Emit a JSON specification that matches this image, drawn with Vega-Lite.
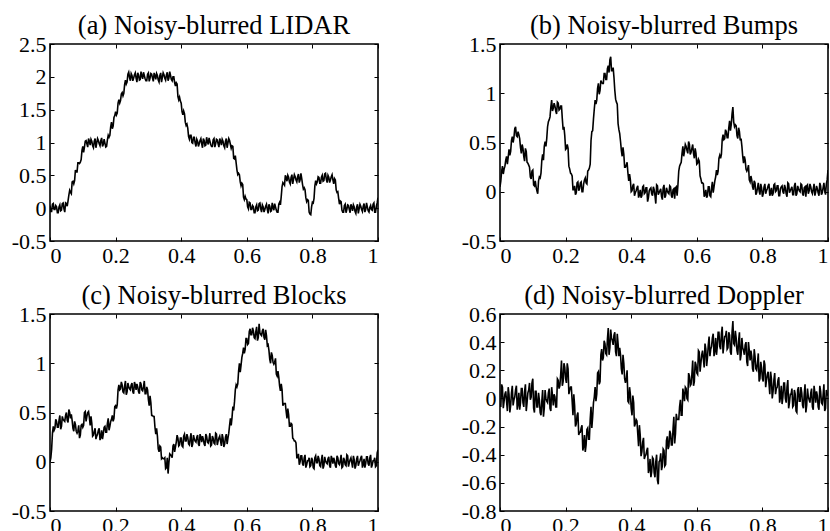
{
"$schema": "https://vega.github.io/schema/vega-lite/v6.json",
"padding": {"left": 10, "top": 11, "right": 0, "bottom": 0},
"background": "white",
"config": {
  "font": "Liberation Serif",
  "view": {"stroke": "black", "strokeWidth": 1.6},
  "axis": {"domain": false, "grid": false, "ticks": true, "tickSize": -4, "tickColor": "black", "tickWidth": 1, "labelFont": "Liberation Serif", "labelFontSize": 22, "labelColor": "black", "labelPadding": 8, "labelOverlap": false, "labelBound": false, "labelExpr": "toString(datum.value)"},
  "title": {"font": "Liberation Serif", "fontSize": 26.5, "fontWeight": "normal", "color": "black", "anchor": "middle", "offset": -6, "baseline": "alphabetic"},
  "line": {"color": "black", "strokeWidth": 1.6}
},
"columns": 2,
"bounds": "flush",
"spacing": {"row": 73, "column": 122},
"datasets": {
"a": [{"x":0,"y":0.04},{"x":0.005,"y":-0.05},{"x":0.01,"y":0.07},{"x":0.015,"y":-0.02},{"x":0.02,"y":0.02},{"x":0.025,"y":-0.07},{"x":0.03,"y":0.05},{"x":0.035,"y":-0.03},{"x":0.04,"y":0.08},{"x":0.045,"y":-0.06},
{"x":0.05,"y":0.07},{"x":0.055,"y":0.11},{"x":0.06,"y":0.27},{"x":0.065,"y":0.22},{"x":0.07,"y":0.41},{"x":0.075,"y":0.42},{"x":0.08,"y":0.55},{"x":0.085,"y":0.69},{"x":0.09,"y":0.68},{"x":0.095,"y":0.74},
{"x":0.1,"y":0.94},{"x":0.105,"y":0.93},{"x":0.11,"y":1.03},{"x":0.115,"y":0.93},{"x":0.12,"y":1.02},{"x":0.125,"y":1.05},{"x":0.13,"y":0.95},{"x":0.135,"y":1.02},{"x":0.14,"y":0.92},{"x":0.145,"y":1.06},
{"x":0.15,"y":0.98},{"x":0.155,"y":1.03},{"x":0.16,"y":0.94},{"x":0.165,"y":1.05},{"x":0.17,"y":0.93},{"x":0.175,"y":1.04},{"x":0.18,"y":1.08},{"x":0.185,"y":1.24},{"x":0.19,"y":1.21},{"x":0.195,"y":1.38},
{"x":0.2,"y":1.47},{"x":0.205,"y":1.45},{"x":0.21,"y":1.65},{"x":0.215,"y":1.64},{"x":0.22,"y":1.76},{"x":0.225,"y":1.75},{"x":0.23,"y":1.95},{"x":0.235,"y":1.92},{"x":0.24,"y":2.07},{"x":0.245,"y":1.94},
{"x":0.25,"y":2.02},{"x":0.255,"y":1.98},{"x":0.26,"y":2.06},{"x":0.265,"y":1.92},{"x":0.27,"y":2.03},{"x":0.275,"y":1.96},{"x":0.28,"y":2.01},{"x":0.285,"y":2.07},{"x":0.29,"y":1.97},{"x":0.295,"y":1.94},
{"x":0.3,"y":2.06},{"x":0.305,"y":1.98},{"x":0.31,"y":2.04},{"x":0.315,"y":1.93},{"x":0.32,"y":2.02},{"x":0.325,"y":2.05},{"x":0.33,"y":1.95},{"x":0.335,"y":2.02},{"x":0.34,"y":1.92},{"x":0.345,"y":2.06},
{"x":0.35,"y":1.98},{"x":0.355,"y":2.03},{"x":0.36,"y":1.94},{"x":0.365,"y":2.08},{"x":0.37,"y":1.96},{"x":0.375,"y":2.0},{"x":0.38,"y":1.91},{"x":0.385,"y":1.91},{"x":0.39,"y":1.7},{"x":0.395,"y":1.69},
{"x":0.4,"y":1.6},{"x":0.405,"y":1.42},{"x":0.41,"y":1.44},{"x":0.415,"y":1.26},{"x":0.42,"y":1.22},{"x":0.425,"y":1.05},{"x":0.43,"y":1.11},{"x":0.435,"y":0.99},{"x":0.44,"y":1.08},{"x":0.445,"y":0.94},
{"x":0.45,"y":1.02},{"x":0.455,"y":0.98},{"x":0.46,"y":1.06},{"x":0.465,"y":0.92},{"x":0.47,"y":1.03},{"x":0.475,"y":0.96},{"x":0.48,"y":1.01},{"x":0.485,"y":1.07},{"x":0.49,"y":0.97},{"x":0.495,"y":0.94},
{"x":0.5,"y":1.06},{"x":0.505,"y":0.98},{"x":0.51,"y":1.04},{"x":0.515,"y":0.93},{"x":0.52,"y":1.02},{"x":0.525,"y":1.05},{"x":0.53,"y":0.95},{"x":0.535,"y":1.02},{"x":0.54,"y":0.92},{"x":0.545,"y":1.06},
{"x":0.55,"y":0.97},{"x":0.555,"y":0.95},{"x":0.56,"y":0.76},{"x":0.565,"y":0.8},{"x":0.57,"y":0.58},{"x":0.575,"y":0.53},{"x":0.58,"y":0.4},{"x":0.585,"y":0.38},{"x":0.59,"y":0.17},{"x":0.595,"y":0.18},
{"x":0.6,"y":0.13},{"x":0.605,"y":-0.01},{"x":0.61,"y":0.08},{"x":0.615,"y":-0.02},{"x":0.62,"y":0.02},{"x":0.625,"y":-0.07},{"x":0.63,"y":0.05},{"x":0.635,"y":-0.03},{"x":0.64,"y":0.08},{"x":0.645,"y":-0.06},
{"x":0.65,"y":0.02},{"x":0.655,"y":-0.02},{"x":0.66,"y":0.06},{"x":0.665,"y":-0.08},{"x":0.67,"y":0.03},{"x":0.675,"y":-0.04},{"x":0.68,"y":0.01},{"x":0.685,"y":0.07},{"x":0.69,"y":-0.03},{"x":0.695,"y":-0.06},
{"x":0.7,"y":0.09},{"x":0.705,"y":0.18},{"x":0.71,"y":0.39},{"x":0.715,"y":0.35},{"x":0.72,"y":0.47},{"x":0.725,"y":0.5},{"x":0.73,"y":0.4},{"x":0.735,"y":0.47},{"x":0.74,"y":0.37},{"x":0.745,"y":0.51},
{"x":0.75,"y":0.43},{"x":0.755,"y":0.48},{"x":0.76,"y":0.39},{"x":0.765,"y":0.53},{"x":0.77,"y":0.36},{"x":0.775,"y":0.31},{"x":0.78,"y":0.16},{"x":0.785,"y":0.13},{"x":0.79,"y":-0.06},{"x":0.795,"y":-0.1},
{"x":0.8,"y":0.09},{"x":0.805,"y":0.15},{"x":0.81,"y":0.42},{"x":0.815,"y":0.4},{"x":0.82,"y":0.47},{"x":0.825,"y":0.38},{"x":0.83,"y":0.5},{"x":0.835,"y":0.42},{"x":0.84,"y":0.53},{"x":0.845,"y":0.39},
{"x":0.85,"y":0.47},{"x":0.855,"y":0.43},{"x":0.86,"y":0.51},{"x":0.865,"y":0.37},{"x":0.87,"y":0.43},{"x":0.875,"y":0.24},{"x":0.88,"y":0.15},{"x":0.885,"y":0.11},{"x":0.89,"y":-0.03},{"x":0.895,"y":-0.06},
{"x":0.9,"y":0.06},{"x":0.905,"y":-0.02},{"x":0.91,"y":0.04},{"x":0.915,"y":-0.07},{"x":0.92,"y":0.02},{"x":0.925,"y":0.05},{"x":0.93,"y":-0.05},{"x":0.935,"y":0.02},{"x":0.94,"y":-0.08},{"x":0.945,"y":0.06},
{"x":0.95,"y":-0.02},{"x":0.955,"y":0.03},{"x":0.96,"y":-0.06},{"x":0.965,"y":0.08},{"x":0.97,"y":-0.04},{"x":0.975,"y":0.01},{"x":0.98,"y":-0.02},{"x":0.985,"y":0.06},{"x":0.99,"y":-0.06},{"x":0.995,"y":0.03},{"x":1,"y":0.16},
{"x":0.0025,"y":-0.05},{"x":0.0075,"y":0.06},{"x":0.0125,"y":-0.02},{"x":0.0175,"y":0.04},{"x":0.0225,"y":-0.07},{"x":0.0275,"y":0.02},{"x":0.0325,"y":-0.04},{"x":0.0375,"y":0.07},{"x":0.0425,"y":-0.01},{"x":0.0475,"y":0.08},
{"x":0.0525,"y":0.03},{"x":0.0575,"y":0.2},{"x":0.0625,"y":0.24},{"x":0.0675,"y":0.4},{"x":0.0725,"y":0.37},{"x":0.0775,"y":0.58},{"x":0.0825,"y":0.55},{"x":0.0875,"y":0.69},{"x":0.0925,"y":0.7},{"x":0.0975,"y":0.88},
{"x":0.1025,"y":0.85},{"x":0.1075,"y":1.02},{"x":0.1125,"y":0.98},{"x":0.1175,"y":1.06},{"x":0.1225,"y":0.96},{"x":0.1275,"y":1.02},{"x":0.1325,"y":0.92},{"x":0.1375,"y":1.06},{"x":0.1425,"y":0.99},{"x":0.1475,"y":1.03},
{"x":0.1525,"y":0.95},{"x":0.1575,"y":1.07},{"x":0.1625,"y":0.97},{"x":0.1675,"y":0.99},{"x":0.1725,"y":0.94},{"x":0.1775,"y":1.11},{"x":0.1825,"y":1.11},{"x":0.1875,"y":1.31},{"x":0.1925,"y":1.25},{"x":0.1975,"y":1.41},
{"x":0.2025,"y":1.42},{"x":0.2075,"y":1.6},{"x":0.2125,"y":1.6},{"x":0.2175,"y":1.74},{"x":0.2225,"y":1.71},{"x":0.2275,"y":1.88},{"x":0.2325,"y":1.89},{"x":0.2375,"y":2.04},{"x":0.2425,"y":1.99},{"x":0.2475,"y":2.05},
{"x":0.2525,"y":1.94},{"x":0.2575,"y":2.03},{"x":0.2625,"y":1.98},{"x":0.2675,"y":2.06},{"x":0.2725,"y":1.95},{"x":0.2775,"y":2.08},{"x":0.2825,"y":1.97},{"x":0.2875,"y":2.02},{"x":0.2925,"y":1.94},{"x":0.2975,"y":2.04},
{"x":0.3025,"y":1.93},{"x":0.3075,"y":2.05},{"x":0.3125,"y":1.98},{"x":0.3175,"y":2.06},{"x":0.3225,"y":1.96},{"x":0.3275,"y":2.02},{"x":0.3325,"y":1.92},{"x":0.3375,"y":2.06},{"x":0.3425,"y":1.99},{"x":0.3475,"y":2.03},
{"x":0.3525,"y":1.95},{"x":0.3575,"y":2.07},{"x":0.3625,"y":1.98},{"x":0.3675,"y":2.02},{"x":0.3725,"y":1.94},{"x":0.3775,"y":2.0},{"x":0.3825,"y":1.86},{"x":0.3875,"y":1.89},{"x":0.3925,"y":1.65},{"x":0.3975,"y":1.63},
{"x":0.4025,"y":1.47},{"x":0.4075,"y":1.48},{"x":0.4125,"y":1.31},{"x":0.4175,"y":1.28},{"x":0.4225,"y":1.09},{"x":0.4275,"y":1.11},{"x":0.4325,"y":1.0},{"x":0.4375,"y":1.08},{"x":0.4425,"y":0.99},{"x":0.4475,"y":1.05},
{"x":0.4525,"y":0.94},{"x":0.4575,"y":1.03},{"x":0.4625,"y":0.98},{"x":0.4675,"y":1.06},{"x":0.4725,"y":0.95},{"x":0.4775,"y":1.08},{"x":0.4825,"y":0.97},{"x":0.4875,"y":1.02},{"x":0.4925,"y":0.94},{"x":0.4975,"y":1.04},
{"x":0.5025,"y":0.93},{"x":0.5075,"y":1.05},{"x":0.5125,"y":0.98},{"x":0.5175,"y":1.06},{"x":0.5225,"y":0.96},{"x":0.5275,"y":1.02},{"x":0.5325,"y":0.92},{"x":0.5375,"y":1.06},{"x":0.5425,"y":0.99},{"x":0.5475,"y":1.03},
{"x":0.5525,"y":0.91},{"x":0.5575,"y":0.94},{"x":0.5625,"y":0.75},{"x":0.5675,"y":0.69},{"x":0.5725,"y":0.51},{"x":0.5775,"y":0.51},{"x":0.5825,"y":0.34},{"x":0.5875,"y":0.36},{"x":0.5925,"y":0.13},{"x":0.5975,"y":0.14},
{"x":0.6025,"y":0.02},{"x":0.6075,"y":0.09},{"x":0.6125,"y":-0.02},{"x":0.6175,"y":0.04},{"x":0.6225,"y":-0.07},{"x":0.6275,"y":0.02},{"x":0.6325,"y":-0.04},{"x":0.6375,"y":0.07},{"x":0.6425,"y":-0.01},{"x":0.6475,"y":0.05},
{"x":0.6525,"y":-0.06},{"x":0.6575,"y":0.03},{"x":0.6625,"y":-0.02},{"x":0.6675,"y":0.06},{"x":0.6725,"y":-0.05},{"x":0.6775,"y":0.08},{"x":0.6825,"y":-0.03},{"x":0.6875,"y":0.02},{"x":0.6925,"y":-0.06},{"x":0.6975,"y":0.06},
{"x":0.7025,"y":0.05},{"x":0.7075,"y":0.33},{"x":0.7125,"y":0.37},{"x":0.7175,"y":0.5},{"x":0.7225,"y":0.41},{"x":0.7275,"y":0.47},{"x":0.7325,"y":0.37},{"x":0.7375,"y":0.51},{"x":0.7425,"y":0.44},{"x":0.7475,"y":0.48},
{"x":0.7525,"y":0.4},{"x":0.7575,"y":0.52},{"x":0.7625,"y":0.43},{"x":0.7675,"y":0.45},{"x":0.7725,"y":0.29},{"x":0.7775,"y":0.28},{"x":0.7825,"y":0.1},{"x":0.7875,"y":0.12},{"x":0.7925,"y":-0.09},{"x":0.7975,"y":0.02},
{"x":0.8025,"y":0.08},{"x":0.8075,"y":0.34},{"x":0.8125,"y":0.37},{"x":0.8175,"y":0.48},{"x":0.8225,"y":0.38},{"x":0.8275,"y":0.47},{"x":0.8325,"y":0.41},{"x":0.8375,"y":0.52},{"x":0.8425,"y":0.44},{"x":0.8475,"y":0.5},
{"x":0.8525,"y":0.39},{"x":0.8575,"y":0.48},{"x":0.8625,"y":0.43},{"x":0.8675,"y":0.45},{"x":0.8725,"y":0.28},{"x":0.8775,"y":0.25},{"x":0.8825,"y":0.06},{"x":0.8875,"y":0.1},{"x":0.8925,"y":-0.06},{"x":0.8975,"y":0.04},
{"x":0.9025,"y":-0.07},{"x":0.9075,"y":0.05},{"x":0.9125,"y":-0.02},{"x":0.9175,"y":0.06},{"x":0.9225,"y":-0.04},{"x":0.9275,"y":0.02},{"x":0.9325,"y":-0.08},{"x":0.9375,"y":0.06},{"x":0.9425,"y":-0.01},{"x":0.9475,"y":0.03},
{"x":0.9525,"y":-0.05},{"x":0.9575,"y":0.07},{"x":0.9625,"y":-0.02},{"x":0.9675,"y":0.02},{"x":0.9725,"y":-0.06},{"x":0.9775,"y":0.04},{"x":0.9825,"y":-0.03},{"x":0.9875,"y":0.08},{"x":0.9925,"y":-0.06},{"x":0.9975,"y":0.08}],
"b": [{"x":0,"y":0.05},{"x":0.005,"y":0.21},{"x":0.01,"y":0.18},{"x":0.015,"y":0.26},{"x":0.02,"y":0.36},{"x":0.025,"y":0.35},{"x":0.03,"y":0.37},{"x":0.035,"y":0.52},{"x":0.04,"y":0.5},{"x":0.045,"y":0.64},
{"x":0.05,"y":0.57},{"x":0.055,"y":0.61},{"x":0.06,"y":0.54},{"x":0.065,"y":0.39},{"x":0.07,"y":0.44},{"x":0.075,"y":0.31},{"x":0.08,"y":0.41},{"x":0.085,"y":0.29},{"x":0.09,"y":0.25},{"x":0.095,"y":0.13},
{"x":0.1,"y":0.22},{"x":0.105,"y":0.06},{"x":0.11,"y":0.05},{"x":0.115,"y":-0.02},{"x":0.12,"y":0.15},{"x":0.125,"y":0.19},{"x":0.13,"y":0.38},{"x":0.135,"y":0.46},{"x":0.14,"y":0.46},{"x":0.145,"y":0.66},
{"x":0.15,"y":0.73},{"x":0.155,"y":0.86},{"x":0.16,"y":0.82},{"x":0.165,"y":0.9},{"x":0.17,"y":0.82},{"x":0.175,"y":0.91},{"x":0.18,"y":0.83},{"x":0.185,"y":0.87},{"x":0.19,"y":0.74},{"x":0.195,"y":0.66},
{"x":0.2,"y":0.43},{"x":0.205,"y":0.48},{"x":0.21,"y":0.26},{"x":0.215,"y":0.19},{"x":0.22,"y":0.16},{"x":0.225,"y":0.02},{"x":0.23,"y":-0.03},{"x":0.235,"y":0.09},{"x":0.24,"y":0.01},{"x":0.245,"y":0.09},
{"x":0.25,"y":0.0},{"x":0.255,"y":0.08},{"x":0.26,"y":0.14},{"x":0.265,"y":0.08},{"x":0.27,"y":0.22},{"x":0.275,"y":0.28},{"x":0.28,"y":0.61},{"x":0.285,"y":0.74},{"x":0.29,"y":0.93},{"x":0.295,"y":0.93},
{"x":0.3,"y":1.1},{"x":0.305,"y":1.03},{"x":0.31,"y":1.11},{"x":0.315,"y":1.1},{"x":0.32,"y":1.2},{"x":0.325,"y":1.14},{"x":0.33,"y":1.28},{"x":0.335,"y":1.34},{"x":0.34,"y":1.23},{"x":0.345,"y":1.26},
{"x":0.35,"y":1.03},{"x":0.355,"y":0.91},{"x":0.36,"y":0.69},{"x":0.365,"y":0.59},{"x":0.37,"y":0.42},{"x":0.375,"y":0.45},{"x":0.38,"y":0.25},{"x":0.385,"y":0.27},{"x":0.39,"y":0.19},{"x":0.395,"y":0.18},
{"x":0.4,"y":0.0},{"x":0.405,"y":0.06},{"x":0.41,"y":-0.04},{"x":0.415,"y":0.01},{"x":0.42,"y":0.06},{"x":0.425,"y":-0.03},{"x":0.43,"y":-0.06},{"x":0.435,"y":0.05},{"x":0.44,"y":-0.02},{"x":0.445,"y":0.04},
{"x":0.45,"y":-0.1},{"x":0.455,"y":0.01},{"x":0.46,"y":0.04},{"x":0.465,"y":-0.04},{"x":0.47,"y":0.02},{"x":0.475,"y":-0.12},{"x":0.48,"y":0.06},{"x":0.485,"y":-0.01},{"x":0.49,"y":0.03},{"x":0.495,"y":-0.08},
{"x":0.5,"y":0.07},{"x":0.505,"y":-0.04},{"x":0.51,"y":0.01},{"x":0.515,"y":-0.02},{"x":0.52,"y":0.05},{"x":0.525,"y":-0.06},{"x":0.53,"y":0.03},{"x":0.535,"y":0.04},{"x":0.54,"y":-0.04},{"x":0.545,"y":0.21},
{"x":0.55,"y":0.28},{"x":0.555,"y":0.39},{"x":0.56,"y":0.36},{"x":0.565,"y":0.48},{"x":0.57,"y":0.42},{"x":0.575,"y":0.51},{"x":0.58,"y":0.38},{"x":0.585,"y":0.44},{"x":0.59,"y":0.39},{"x":0.595,"y":0.44},
{"x":0.6,"y":0.28},{"x":0.605,"y":0.33},{"x":0.61,"y":0.16},{"x":0.615,"y":0.09},{"x":0.62,"y":0.08},{"x":0.625,"y":-0.03},{"x":0.63,"y":-0.06},{"x":0.635,"y":0.05},{"x":0.64,"y":-0.04},{"x":0.645,"y":0.04},
{"x":0.65,"y":-0.01},{"x":0.655,"y":0.11},{"x":0.66,"y":0.22},{"x":0.665,"y":0.21},{"x":0.67,"y":0.37},{"x":0.675,"y":0.38},{"x":0.68,"y":0.58},{"x":0.685,"y":0.54},{"x":0.69,"y":0.61},{"x":0.695,"y":0.55},
{"x":0.7,"y":0.72},{"x":0.705,"y":0.68},{"x":0.71,"y":0.86},{"x":0.715,"y":0.66},{"x":0.72,"y":0.67},{"x":0.725,"y":0.54},{"x":0.73,"y":0.61},{"x":0.735,"y":0.54},{"x":0.74,"y":0.36},{"x":0.745,"y":0.36},
{"x":0.75,"y":0.23},{"x":0.755,"y":0.23},{"x":0.76,"y":0.12},{"x":0.765,"y":0.16},{"x":0.77,"y":0.05},{"x":0.775,"y":0.11},{"x":0.78,"y":-0.03},{"x":0.785,"y":0.04},{"x":0.79,"y":0.01},{"x":0.795,"y":0.08},
{"x":0.8,"y":-0.05},{"x":0.805,"y":0.05},{"x":0.81,"y":-0.02},{"x":0.815,"y":0.03},{"x":0.82,"y":0.08},{"x":0.825,"y":-0.01},{"x":0.83,"y":-0.04},{"x":0.835,"y":0.07},{"x":0.84,"y":0.0},{"x":0.845,"y":0.06},
{"x":0.85,"y":-0.04},{"x":0.855,"y":0.03},{"x":0.86,"y":0.06},{"x":0.865,"y":-0.02},{"x":0.87,"y":0.04},{"x":0.875,"y":-0.05},{"x":0.88,"y":0.08},{"x":0.885,"y":0.01},{"x":0.89,"y":0.05},{"x":0.895,"y":-0.03},
{"x":0.9,"y":0.09},{"x":0.905,"y":-0.02},{"x":0.91,"y":0.03},{"x":0.915,"y":0.0},{"x":0.92,"y":0.07},{"x":0.925,"y":-0.04},{"x":0.93,"y":0.05},{"x":0.935,"y":0.06},{"x":0.94,"y":-0.02},{"x":0.945,"y":0.08},
{"x":0.95,"y":0.0},{"x":0.955,"y":0.03},{"x":0.96,"y":-0.04},{"x":0.965,"y":0.06},{"x":0.97,"y":-0.01},{"x":0.975,"y":0.09},{"x":0.98,"y":-0.03},{"x":0.985,"y":0.04},{"x":0.99,"y":0.01},{"x":0.995,"y":0.08},{"x":1,"y":0.22},
{"x":0.0025,"y":0.11},{"x":0.0075,"y":0.26},{"x":0.0125,"y":0.23},{"x":0.0175,"y":0.32},{"x":0.0225,"y":0.28},{"x":0.0275,"y":0.43},{"x":0.0325,"y":0.41},{"x":0.0375,"y":0.56},{"x":0.0425,"y":0.55},{"x":0.0475,"y":0.66},
{"x":0.0525,"y":0.56},{"x":0.0575,"y":0.58},{"x":0.0625,"y":0.45},{"x":0.0675,"y":0.48},{"x":0.0725,"y":0.36},{"x":0.0775,"y":0.44},{"x":0.0825,"y":0.3},{"x":0.0875,"y":0.27},{"x":0.0925,"y":0.15},{"x":0.0975,"y":0.21},
{"x":0.1025,"y":0.07},{"x":0.1075,"y":0.11},{"x":0.1125,"y":0.01},{"x":0.1175,"y":0.11},{"x":0.1225,"y":0.14},{"x":0.1275,"y":0.32},{"x":0.1325,"y":0.32},{"x":0.1375,"y":0.51},{"x":0.1425,"y":0.54},{"x":0.1475,"y":0.71},
{"x":0.1525,"y":0.76},{"x":0.1575,"y":0.93},{"x":0.1625,"y":0.85},{"x":0.1675,"y":0.87},{"x":0.1725,"y":0.79},{"x":0.1775,"y":0.9},{"x":0.1825,"y":0.84},{"x":0.1875,"y":0.87},{"x":0.1925,"y":0.63},{"x":0.1975,"y":0.57},
{"x":0.2025,"y":0.44},{"x":0.2075,"y":0.44},{"x":0.2125,"y":0.23},{"x":0.2175,"y":0.18},{"x":0.2225,"y":0.02},{"x":0.2275,"y":0.06},{"x":0.2325,"y":-0.01},{"x":0.2375,"y":0.1},{"x":0.2425,"y":0.03},{"x":0.2475,"y":0.1},
{"x":0.2525,"y":0.0},{"x":0.2575,"y":0.12},{"x":0.2625,"y":0.09},{"x":0.2675,"y":0.21},{"x":0.2725,"y":0.24},{"x":0.2775,"y":0.52},{"x":0.2825,"y":0.62},{"x":0.2875,"y":0.84},{"x":0.2925,"y":0.89},{"x":0.2975,"y":1.05},
{"x":0.3025,"y":0.99},{"x":0.3075,"y":1.13},{"x":0.3125,"y":1.1},{"x":0.3175,"y":1.2},{"x":0.3225,"y":1.14},{"x":0.3275,"y":1.25},{"x":0.3325,"y":1.21},{"x":0.3375,"y":1.37},{"x":0.3425,"y":1.23},{"x":0.3475,"y":1.16},
{"x":0.3525,"y":0.94},{"x":0.3575,"y":0.89},{"x":0.3625,"y":0.63},{"x":0.3675,"y":0.51},{"x":0.3725,"y":0.36},{"x":0.3775,"y":0.38},{"x":0.3825,"y":0.25},{"x":0.3875,"y":0.3},{"x":0.3925,"y":0.11},{"x":0.3975,"y":0.12},
{"x":0.4025,"y":0.01},{"x":0.4075,"y":0.08},{"x":0.4125,"y":-0.01},{"x":0.4175,"y":0.04},{"x":0.4225,"y":-0.06},{"x":0.4275,"y":0.02},{"x":0.4325,"y":-0.04},{"x":0.4375,"y":0.06},{"x":0.4425,"y":-0.01},{"x":0.4475,"y":0.04},
{"x":0.4525,"y":-0.06},{"x":0.4575,"y":0.03},{"x":0.4625,"y":-0.02},{"x":0.4675,"y":0.05},{"x":0.4725,"y":-0.04},{"x":0.4775,"y":0.07},{"x":0.4825,"y":-0.03},{"x":0.4875,"y":0.01},{"x":0.4925,"y":-0.05},{"x":0.4975,"y":0.04},
{"x":0.5025,"y":-0.06},{"x":0.5075,"y":0.04},{"x":0.5125,"y":-0.01},{"x":0.5175,"y":0.06},{"x":0.5225,"y":-0.04},{"x":0.5275,"y":0.02},{"x":0.5325,"y":-0.07},{"x":0.5375,"y":0.05},{"x":0.5425,"y":0.07},{"x":0.5475,"y":0.26},
{"x":0.5525,"y":0.3},{"x":0.5575,"y":0.46},{"x":0.5625,"y":0.41},{"x":0.5675,"y":0.46},{"x":0.5725,"y":0.39},{"x":0.5775,"y":0.48},{"x":0.5825,"y":0.4},{"x":0.5875,"y":0.48},{"x":0.5925,"y":0.34},{"x":0.5975,"y":0.39},
{"x":0.6025,"y":0.29},{"x":0.6075,"y":0.31},{"x":0.6125,"y":0.13},{"x":0.6175,"y":0.09},{"x":0.6225,"y":-0.05},{"x":0.6275,"y":0.02},{"x":0.6325,"y":-0.04},{"x":0.6375,"y":0.05},{"x":0.6425,"y":-0.05},{"x":0.6475,"y":0.1},
{"x":0.6525,"y":0.05},{"x":0.6575,"y":0.15},{"x":0.6625,"y":0.17},{"x":0.6675,"y":0.34},{"x":0.6725,"y":0.34},{"x":0.6775,"y":0.53},{"x":0.6825,"y":0.53},{"x":0.6875,"y":0.63},{"x":0.6925,"y":0.55},{"x":0.6975,"y":0.65},
{"x":0.7025,"y":0.62},{"x":0.7075,"y":0.79},{"x":0.7125,"y":0.71},{"x":0.7175,"y":0.68},{"x":0.7225,"y":0.57},{"x":0.7275,"y":0.65},{"x":0.7325,"y":0.52},{"x":0.7375,"y":0.46},{"x":0.7425,"y":0.29},{"x":0.7475,"y":0.32},
{"x":0.7525,"y":0.21},{"x":0.7575,"y":0.27},{"x":0.7625,"y":0.1},{"x":0.7675,"y":0.12},{"x":0.7725,"y":0.02},{"x":0.7775,"y":0.09},{"x":0.7825,"y":-0.01},{"x":0.7875,"y":0.09},{"x":0.7925,"y":-0.03},{"x":0.7975,"y":0.04},
{"x":0.8025,"y":-0.02},{"x":0.8075,"y":0.08},{"x":0.8125,"y":0.01},{"x":0.8175,"y":0.06},{"x":0.8225,"y":-0.04},{"x":0.8275,"y":0.04},{"x":0.8325,"y":-0.02},{"x":0.8375,"y":0.08},{"x":0.8425,"y":0.01},{"x":0.8475,"y":0.06},
{"x":0.8525,"y":-0.04},{"x":0.8575,"y":0.05},{"x":0.8625,"y":0.0},{"x":0.8675,"y":0.07},{"x":0.8725,"y":-0.02},{"x":0.8775,"y":0.09},{"x":0.8825,"y":-0.01},{"x":0.8875,"y":0.03},{"x":0.8925,"y":-0.03},{"x":0.8975,"y":0.06},
{"x":0.9025,"y":-0.04},{"x":0.9075,"y":0.06},{"x":0.9125,"y":0.01},{"x":0.9175,"y":0.08},{"x":0.9225,"y":-0.02},{"x":0.9275,"y":0.04},{"x":0.9325,"y":-0.05},{"x":0.9375,"y":0.07},{"x":0.9425,"y":0.01},{"x":0.9475,"y":0.05},
{"x":0.9525,"y":-0.02},{"x":0.9575,"y":0.08},{"x":0.9625,"y":0.0},{"x":0.9675,"y":0.03},{"x":0.9725,"y":-0.04},{"x":0.9775,"y":0.06},{"x":0.9825,"y":-0.01},{"x":0.9875,"y":0.09},{"x":0.9925,"y":-0.03},{"x":0.9975,"y":0.12}],
"c": [{"x":0,"y":0.0},{"x":0.005,"y":0.13},{"x":0.01,"y":0.36},{"x":0.015,"y":0.34},{"x":0.02,"y":0.41},{"x":0.025,"y":0.35},{"x":0.03,"y":0.47},{"x":0.035,"y":0.36},{"x":0.04,"y":0.43},{"x":0.045,"y":0.41},
{"x":0.05,"y":0.5},{"x":0.055,"y":0.4},{"x":0.06,"y":0.5},{"x":0.065,"y":0.48},{"x":0.07,"y":0.34},{"x":0.075,"y":0.41},{"x":0.08,"y":0.31},{"x":0.085,"y":0.31},{"x":0.09,"y":0.24},{"x":0.095,"y":0.37},
{"x":0.1,"y":0.35},{"x":0.105,"y":0.5},{"x":0.11,"y":0.41},{"x":0.115,"y":0.5},{"x":0.12,"y":0.45},{"x":0.125,"y":0.46},{"x":0.13,"y":0.26},{"x":0.135,"y":0.31},{"x":0.14,"y":0.23},{"x":0.145,"y":0.28},
{"x":0.15,"y":0.34},{"x":0.155,"y":0.25},{"x":0.16,"y":0.23},{"x":0.165,"y":0.35},{"x":0.17,"y":0.3},{"x":0.175,"y":0.39},{"x":0.18,"y":0.32},{"x":0.185,"y":0.41},{"x":0.19,"y":0.47},{"x":0.195,"y":0.44},
{"x":0.2,"y":0.57},{"x":0.205,"y":0.58},{"x":0.21,"y":0.78},{"x":0.215,"y":0.74},{"x":0.22,"y":0.78},{"x":0.225,"y":0.7},{"x":0.23,"y":0.82},{"x":0.235,"y":0.71},{"x":0.24,"y":0.76},{"x":0.245,"y":0.73},
{"x":0.25,"y":0.8},{"x":0.255,"y":0.69},{"x":0.26,"y":0.78},{"x":0.265,"y":0.79},{"x":0.27,"y":0.71},{"x":0.275,"y":0.81},{"x":0.28,"y":0.73},{"x":0.285,"y":0.76},{"x":0.29,"y":0.69},{"x":0.295,"y":0.76},
{"x":0.3,"y":0.63},{"x":0.305,"y":0.67},{"x":0.31,"y":0.47},{"x":0.315,"y":0.46},{"x":0.32,"y":0.35},{"x":0.325,"y":0.34},{"x":0.33,"y":0.13},{"x":0.335,"y":0.16},{"x":0.34,"y":0.03},{"x":0.345,"y":0.03},
{"x":0.35,"y":0.04},{"x":0.355,"y":-0.06},{"x":0.36,"y":-0.12},{"x":0.365,"y":0.08},{"x":0.37,"y":0.06},{"x":0.375,"y":0.16},{"x":0.38,"y":0.1},{"x":0.385,"y":0.2},{"x":0.39,"y":0.24},{"x":0.395,"y":0.17},
{"x":0.4,"y":0.24},{"x":0.405,"y":0.15},{"x":0.41,"y":0.28},{"x":0.415,"y":0.21},{"x":0.42,"y":0.25},{"x":0.425,"y":0.17},{"x":0.43,"y":0.29},{"x":0.435,"y":0.18},{"x":0.44,"y":0.23},{"x":0.445,"y":0.2},
{"x":0.45,"y":0.27},{"x":0.455,"y":0.16},{"x":0.46,"y":0.25},{"x":0.465,"y":0.26},{"x":0.47,"y":0.18},{"x":0.475,"y":0.28},{"x":0.48,"y":0.2},{"x":0.485,"y":0.23},{"x":0.49,"y":0.16},{"x":0.495,"y":0.26},
{"x":0.5,"y":0.19},{"x":0.505,"y":0.29},{"x":0.51,"y":0.17},{"x":0.515,"y":0.24},{"x":0.52,"y":0.21},{"x":0.525,"y":0.28},{"x":0.53,"y":0.15},{"x":0.535,"y":0.25},{"x":0.54,"y":0.18},{"x":0.545,"y":0.29},
{"x":0.55,"y":0.44},{"x":0.555,"y":0.45},{"x":0.56,"y":0.52},{"x":0.565,"y":0.73},{"x":0.57,"y":0.76},{"x":0.575,"y":0.92},{"x":0.58,"y":0.91},{"x":0.585,"y":1.06},{"x":0.59,"y":1.16},{"x":0.595,"y":1.14},
{"x":0.6,"y":1.25},{"x":0.605,"y":1.2},{"x":0.61,"y":1.35},{"x":0.615,"y":1.29},{"x":0.62,"y":1.33},{"x":0.625,"y":1.25},{"x":0.63,"y":1.37},{"x":0.635,"y":1.26},{"x":0.64,"y":1.31},{"x":0.645,"y":1.28},
{"x":0.65,"y":1.35},{"x":0.655,"y":1.24},{"x":0.66,"y":1.28},{"x":0.665,"y":1.19},{"x":0.67,"y":1.04},{"x":0.675,"y":1.11},{"x":0.68,"y":1.01},{"x":0.685,"y":1.01},{"x":0.69,"y":0.89},{"x":0.695,"y":0.92},
{"x":0.7,"y":0.77},{"x":0.705,"y":0.79},{"x":0.71,"y":0.57},{"x":0.715,"y":0.59},{"x":0.72,"y":0.51},{"x":0.725,"y":0.54},{"x":0.73,"y":0.36},{"x":0.735,"y":0.39},{"x":0.74,"y":0.24},{"x":0.745,"y":0.21},
{"x":0.75,"y":0.19},{"x":0.755,"y":0.04},{"x":0.76,"y":-0.03},{"x":0.765,"y":0.06},{"x":0.77,"y":-0.02},{"x":0.775,"y":0.04},{"x":0.78,"y":-0.06},{"x":0.785,"y":0.01},{"x":0.79,"y":0.04},{"x":0.795,"y":-0.04},
{"x":0.8,"y":0.02},{"x":0.805,"y":-0.07},{"x":0.81,"y":0.06},{"x":0.815,"y":-0.01},{"x":0.82,"y":0.03},{"x":0.825,"y":-0.05},{"x":0.83,"y":0.07},{"x":0.835,"y":-0.04},{"x":0.84,"y":0.01},{"x":0.845,"y":-0.02},
{"x":0.85,"y":0.05},{"x":0.855,"y":-0.06},{"x":0.86,"y":0.03},{"x":0.865,"y":0.04},{"x":0.87,"y":-0.04},{"x":0.875,"y":0.06},{"x":0.88,"y":-0.02},{"x":0.885,"y":0.01},{"x":0.89,"y":-0.06},{"x":0.895,"y":0.04},
{"x":0.9,"y":-0.03},{"x":0.905,"y":0.07},{"x":0.91,"y":-0.05},{"x":0.915,"y":0.02},{"x":0.92,"y":-0.01},{"x":0.925,"y":0.06},{"x":0.93,"y":-0.07},{"x":0.935,"y":0.03},{"x":0.94,"y":-0.04},{"x":0.945,"y":0.01},
{"x":0.95,"y":0.06},{"x":0.955,"y":-0.03},{"x":0.96,"y":-0.06},{"x":0.965,"y":0.05},{"x":0.97,"y":-0.02},{"x":0.975,"y":0.04},{"x":0.98,"y":-0.06},{"x":0.985,"y":0.01},{"x":0.99,"y":0.04},{"x":0.995,"y":-0.04},{"x":1,"y":0.12},
{"x":0.0025,"y":0.04},{"x":0.0075,"y":0.29},{"x":0.0125,"y":0.32},{"x":0.0175,"y":0.43},{"x":0.0225,"y":0.35},{"x":0.0275,"y":0.42},{"x":0.0325,"y":0.33},{"x":0.0375,"y":0.46},{"x":0.0425,"y":0.42},{"x":0.0475,"y":0.47},
{"x":0.0525,"y":0.42},{"x":0.0575,"y":0.53},{"x":0.0625,"y":0.44},{"x":0.0675,"y":0.42},{"x":0.0725,"y":0.31},{"x":0.0775,"y":0.38},{"x":0.0825,"y":0.29},{"x":0.0875,"y":0.37},{"x":0.0925,"y":0.27},{"x":0.0975,"y":0.38},
{"x":0.1025,"y":0.37},{"x":0.1075,"y":0.51},{"x":0.1125,"y":0.46},{"x":0.1175,"y":0.51},{"x":0.1225,"y":0.37},{"x":0.1275,"y":0.39},{"x":0.1325,"y":0.27},{"x":0.1375,"y":0.34},{"x":0.1425,"y":0.26},{"x":0.1475,"y":0.32},
{"x":0.1525,"y":0.22},{"x":0.1575,"y":0.32},{"x":0.1625,"y":0.28},{"x":0.1675,"y":0.36},{"x":0.1725,"y":0.3},{"x":0.1775,"y":0.44},{"x":0.1825,"y":0.36},{"x":0.1875,"y":0.43},{"x":0.1925,"y":0.41},{"x":0.1975,"y":0.56},
{"x":0.2025,"y":0.54},{"x":0.2075,"y":0.73},{"x":0.2125,"y":0.73},{"x":0.2175,"y":0.81},{"x":0.2225,"y":0.71},{"x":0.2275,"y":0.77},{"x":0.2325,"y":0.68},{"x":0.2375,"y":0.8},{"x":0.2425,"y":0.74},{"x":0.2475,"y":0.78},
{"x":0.2525,"y":0.71},{"x":0.2575,"y":0.81},{"x":0.2625,"y":0.73},{"x":0.2675,"y":0.76},{"x":0.2725,"y":0.69},{"x":0.2775,"y":0.79},{"x":0.2825,"y":0.72},{"x":0.2875,"y":0.82},{"x":0.2925,"y":0.69},{"x":0.2975,"y":0.73},
{"x":0.3025,"y":0.57},{"x":0.3075,"y":0.6},{"x":0.3125,"y":0.47},{"x":0.3175,"y":0.46},{"x":0.3225,"y":0.28},{"x":0.3275,"y":0.26},{"x":0.3325,"y":0.1},{"x":0.3375,"y":0.15},{"x":0.3425,"y":0.04},{"x":0.3475,"y":0.03},
{"x":0.3525,"y":-0.07},{"x":0.3575,"y":0.04},{"x":0.3625,"y":-0.01},{"x":0.3675,"y":0.07},{"x":0.3725,"y":0.04},{"x":0.3775,"y":0.18},{"x":0.3825,"y":0.15},{"x":0.3875,"y":0.27},{"x":0.3925,"y":0.16},{"x":0.3975,"y":0.24},
{"x":0.4025,"y":0.16},{"x":0.4075,"y":0.26},{"x":0.4125,"y":0.21},{"x":0.4175,"y":0.28},{"x":0.4225,"y":0.18},{"x":0.4275,"y":0.24},{"x":0.4325,"y":0.15},{"x":0.4375,"y":0.27},{"x":0.4425,"y":0.21},{"x":0.4475,"y":0.25},
{"x":0.4525,"y":0.18},{"x":0.4575,"y":0.28},{"x":0.4625,"y":0.2},{"x":0.4675,"y":0.23},{"x":0.4725,"y":0.16},{"x":0.4775,"y":0.26},{"x":0.4825,"y":0.19},{"x":0.4875,"y":0.29},{"x":0.4925,"y":0.17},{"x":0.4975,"y":0.24},
{"x":0.5025,"y":0.18},{"x":0.5075,"y":0.28},{"x":0.5125,"y":0.21},{"x":0.5175,"y":0.26},{"x":0.5225,"y":0.16},{"x":0.5275,"y":0.24},{"x":0.5325,"y":0.18},{"x":0.5375,"y":0.28},{"x":0.5425,"y":0.24},{"x":0.5475,"y":0.37},
{"x":0.5525,"y":0.37},{"x":0.5575,"y":0.56},{"x":0.5625,"y":0.61},{"x":0.5675,"y":0.78},{"x":0.5725,"y":0.79},{"x":0.5775,"y":1.0},{"x":0.5825,"y":0.98},{"x":0.5875,"y":1.1},{"x":0.5925,"y":1.1},{"x":0.5975,"y":1.25},
{"x":0.6025,"y":1.19},{"x":0.6075,"y":1.32},{"x":0.6125,"y":1.29},{"x":0.6175,"y":1.36},{"x":0.6225,"y":1.26},{"x":0.6275,"y":1.32},{"x":0.6325,"y":1.23},{"x":0.6375,"y":1.4},{"x":0.6425,"y":1.29},{"x":0.6475,"y":1.33},
{"x":0.6525,"y":1.26},{"x":0.6575,"y":1.34},{"x":0.6625,"y":1.18},{"x":0.6675,"y":1.13},{"x":0.6725,"y":1.0},{"x":0.6775,"y":1.08},{"x":0.6825,"y":0.99},{"x":0.6875,"y":1.05},{"x":0.6925,"y":0.87},{"x":0.6975,"y":0.86},
{"x":0.7025,"y":0.72},{"x":0.7075,"y":0.73},{"x":0.7125,"y":0.59},{"x":0.7175,"y":0.59},{"x":0.7225,"y":0.44},{"x":0.7275,"y":0.48},{"x":0.7325,"y":0.36},{"x":0.7375,"y":0.38},{"x":0.7425,"y":0.23},{"x":0.7475,"y":0.21},
{"x":0.7525,"y":0.04},{"x":0.7575,"y":0.08},{"x":0.7625,"y":0.0},{"x":0.7675,"y":0.06},{"x":0.7725,"y":-0.04},{"x":0.7775,"y":0.07},{"x":0.7825,"y":-0.03},{"x":0.7875,"y":0.01},{"x":0.7925,"y":-0.05},{"x":0.7975,"y":0.04},
{"x":0.8025,"y":-0.06},{"x":0.8075,"y":0.04},{"x":0.8125,"y":-0.01},{"x":0.8175,"y":0.06},{"x":0.8225,"y":-0.04},{"x":0.8275,"y":0.02},{"x":0.8325,"y":-0.07},{"x":0.8375,"y":0.05},{"x":0.8425,"y":-0.01},{"x":0.8475,"y":0.03},
{"x":0.8525,"y":-0.04},{"x":0.8575,"y":0.06},{"x":0.8625,"y":-0.02},{"x":0.8675,"y":0.01},{"x":0.8725,"y":-0.06},{"x":0.8775,"y":0.04},{"x":0.8825,"y":-0.03},{"x":0.8875,"y":0.07},{"x":0.8925,"y":-0.05},{"x":0.8975,"y":0.02},
{"x":0.9025,"y":-0.04},{"x":0.9075,"y":0.06},{"x":0.9125,"y":-0.01},{"x":0.9175,"y":0.04},{"x":0.9225,"y":-0.06},{"x":0.9275,"y":0.02},{"x":0.9325,"y":-0.04},{"x":0.9375,"y":0.06},{"x":0.9425,"y":-0.01},{"x":0.9475,"y":0.04},
{"x":0.9525,"y":-0.06},{"x":0.9575,"y":0.03},{"x":0.9625,"y":-0.02},{"x":0.9675,"y":0.05},{"x":0.9725,"y":-0.04},{"x":0.9775,"y":0.07},{"x":0.9825,"y":-0.03},{"x":0.9875,"y":0.01},{"x":0.9925,"y":-0.05},{"x":0.9975,"y":0.09}],
"d": [{"x":0,"y":-0.04},{"x":0.005,"y":0.1},{"x":0.01,"y":-0.07},{"x":0.015,"y":0.03},{"x":0.02,"y":-0.02},{"x":0.025,"y":0.08},{"x":0.03,"y":-0.1},{"x":0.035,"y":0.04},{"x":0.04,"y":-0.05},{"x":0.045,"y":0.01},
{"x":0.05,"y":0.09},{"x":0.055,"y":-0.04},{"x":0.06,"y":-0.08},{"x":0.065,"y":0.07},{"x":0.07,"y":-0.03},{"x":0.075,"y":0.05},{"x":0.08,"y":-0.09},{"x":0.085,"y":0.04},{"x":0.09,"y":0.11},{"x":0.095,"y":0.01},
{"x":0.1,"y":0.14},{"x":0.105,"y":-0.1},{"x":0.11,"y":0.05},{"x":0.115,"y":-0.06},{"x":0.12,"y":-0.01},{"x":0.125,"y":-0.12},{"x":0.13,"y":0.06},{"x":0.135,"y":-0.07},{"x":0.14,"y":0.0},{"x":0.145,"y":-0.03},
{"x":0.15,"y":0.07},{"x":0.155,"y":-0.09},{"x":0.16,"y":0.02},{"x":0.165,"y":0.03},{"x":0.17,"y":-0.06},{"x":0.175,"y":0.14},{"x":0.18,"y":0.07},{"x":0.185,"y":0.17},{"x":0.19,"y":0.09},{"x":0.195,"y":0.25},
{"x":0.2,"y":0.14},{"x":0.205,"y":0.25},{"x":0.21,"y":0.03},{"x":0.215,"y":0.08},{"x":0.22,"y":-0.02},{"x":0.225,"y":0.03},{"x":0.23,"y":-0.2},{"x":0.235,"y":-0.12},{"x":0.24,"y":-0.26},{"x":0.245,"y":-0.24},
{"x":0.25,"y":-0.19},{"x":0.255,"y":-0.34},{"x":0.26,"y":-0.38},{"x":0.265,"y":-0.22},{"x":0.27,"y":-0.29},{"x":0.275,"y":-0.15},{"x":0.28,"y":-0.21},{"x":0.285,"y":-0.03},{"x":0.29,"y":0.08},{"x":0.295,"y":0.03},
{"x":0.3,"y":0.19},{"x":0.305,"y":0.12},{"x":0.31,"y":0.35},{"x":0.315,"y":0.29},{"x":0.32,"y":0.39},{"x":0.325,"y":0.31},{"x":0.33,"y":0.5},{"x":0.335,"y":0.36},{"x":0.34,"y":0.43},{"x":0.345,"y":0.38},
{"x":0.35,"y":0.47},{"x":0.355,"y":0.3},{"x":0.36,"y":0.39},{"x":0.365,"y":0.36},{"x":0.37,"y":0.21},{"x":0.375,"y":0.31},{"x":0.38,"y":0.14},{"x":0.385,"y":0.14},{"x":0.39,"y":-0.02},{"x":0.395,"y":0.08},
{"x":0.4,"y":-0.07},{"x":0.405,"y":0.02},{"x":0.41,"y":-0.2},{"x":0.415,"y":-0.15},{"x":0.42,"y":-0.25},{"x":0.425,"y":-0.19},{"x":0.43,"y":-0.41},{"x":0.435,"y":-0.31},{"x":0.44,"y":-0.43},{"x":0.445,"y":-0.4},
{"x":0.45,"y":-0.35},{"x":0.455,"y":-0.5},{"x":0.46,"y":-0.56},{"x":0.465,"y":-0.42},{"x":0.47,"y":-0.53},{"x":0.475,"y":-0.45},{"x":0.48,"y":-0.58},{"x":0.485,"y":-0.45},{"x":0.49,"y":-0.39},{"x":0.495,"y":-0.48},
{"x":0.5,"y":-0.37},{"x":0.505,"y":-0.47},{"x":0.51,"y":-0.27},{"x":0.515,"y":-0.34},{"x":0.52,"y":-0.25},{"x":0.525,"y":-0.33},{"x":0.53,"y":-0.13},{"x":0.535,"y":-0.25},{"x":0.54,"y":-0.15},{"x":0.545,"y":-0.15},
{"x":0.55,"y":-0.01},{"x":0.555,"y":-0.12},{"x":0.56,"y":0.03},{"x":0.565,"y":0.08},{"x":0.57,"y":0.0},{"x":0.575,"y":0.18},{"x":0.58,"y":0.09},{"x":0.585,"y":0.17},{"x":0.59,"y":0.09},{"x":0.595,"y":0.26},
{"x":0.6,"y":0.18},{"x":0.605,"y":0.34},{"x":0.61,"y":0.19},{"x":0.615,"y":0.31},{"x":0.62,"y":0.28},{"x":0.625,"y":0.39},{"x":0.63,"y":0.23},{"x":0.635,"y":0.38},{"x":0.64,"y":0.3},{"x":0.645,"y":0.37},
{"x":0.65,"y":0.46},{"x":0.655,"y":0.34},{"x":0.66,"y":0.31},{"x":0.665,"y":0.47},{"x":0.67,"y":0.37},{"x":0.675,"y":0.46},{"x":0.68,"y":0.32},{"x":0.685,"y":0.44},{"x":0.69,"y":0.48},{"x":0.695,"y":0.36},
{"x":0.7,"y":0.45},{"x":0.705,"y":0.31},{"x":0.71,"y":0.55},{"x":0.715,"y":0.38},{"x":0.72,"y":0.43},{"x":0.725,"y":0.31},{"x":0.73,"y":0.47},{"x":0.735,"y":0.31},{"x":0.74,"y":0.36},{"x":0.745,"y":0.31},
{"x":0.75,"y":0.4},{"x":0.755,"y":0.23},{"x":0.76,"y":0.34},{"x":0.765,"y":0.34},{"x":0.77,"y":0.21},{"x":0.775,"y":0.35},{"x":0.78,"y":0.21},{"x":0.785,"y":0.25},{"x":0.79,"y":0.12},{"x":0.795,"y":0.26},
{"x":0.8,"y":0.14},{"x":0.805,"y":0.27},{"x":0.81,"y":0.08},{"x":0.815,"y":0.17},{"x":0.82,"y":0.11},{"x":0.825,"y":0.19},{"x":0.83,"y":0.0},{"x":0.835,"y":0.13},{"x":0.84,"y":0.03},{"x":0.845,"y":0.08},
{"x":0.85,"y":0.15},{"x":0.855,"y":0.01},{"x":0.86,"y":-0.04},{"x":0.865,"y":0.11},{"x":0.87,"y":0.0},{"x":0.875,"y":0.08},{"x":0.88,"y":-0.07},{"x":0.885,"y":0.03},{"x":0.89,"y":0.07},{"x":0.895,"y":-0.05},
{"x":0.9,"y":0.03},{"x":0.905,"y":-0.1},{"x":0.91,"y":0.08},{"x":0.915,"y":-0.02},{"x":0.92,"y":0.04},{"x":0.925,"y":-0.07},{"x":0.93,"y":0.1},{"x":0.935,"y":-0.05},{"x":0.94,"y":0.01},{"x":0.945,"y":-0.03},
{"x":0.95,"y":0.07},{"x":0.955,"y":-0.08},{"x":0.96,"y":0.04},{"x":0.965,"y":0.05},{"x":0.97,"y":-0.06},{"x":0.975,"y":0.09},{"x":0.98,"y":-0.03},{"x":0.985,"y":0.02},{"x":0.99,"y":-0.09},{"x":0.995,"y":0.06},{"x":1,"y":0.02},
{"x":0.0025,"y":-0.06},{"x":0.0075,"y":0.08},{"x":0.0125,"y":-0.02},{"x":0.0175,"y":0.05},{"x":0.0225,"y":-0.09},{"x":0.0275,"y":0.03},{"x":0.0325,"y":-0.05},{"x":0.0375,"y":0.09},{"x":0.0425,"y":-0.01},{"x":0.0475,"y":0.06},
{"x":0.0525,"y":-0.08},{"x":0.0575,"y":0.04},{"x":0.0625,"y":-0.03},{"x":0.0675,"y":0.07},{"x":0.0725,"y":-0.06},{"x":0.0775,"y":0.1},{"x":0.0825,"y":-0.03},{"x":0.0875,"y":0.06},{"x":0.0925,"y":-0.01},{"x":0.0975,"y":0.11},
{"x":0.1025,"y":-0.07},{"x":0.1075,"y":0.05},{"x":0.1125,"y":-0.06},{"x":0.1175,"y":0.04},{"x":0.1225,"y":-0.1},{"x":0.1275,"y":-0.02},{"x":0.1325,"y":-0.13},{"x":0.1375,"y":0.06},{"x":0.1425,"y":-0.02},{"x":0.1475,"y":0.04},
{"x":0.1525,"y":-0.07},{"x":0.1575,"y":0.08},{"x":0.1625,"y":-0.05},{"x":0.1675,"y":0.01},{"x":0.1725,"y":-0.06},{"x":0.1775,"y":0.13},{"x":0.1825,"y":0.09},{"x":0.1875,"y":0.27},{"x":0.1925,"y":0.12},{"x":0.1975,"y":0.22},
{"x":0.2025,"y":0.11},{"x":0.2075,"y":0.21},{"x":0.2125,"y":0.06},{"x":0.2175,"y":0.08},{"x":0.2225,"y":-0.12},{"x":0.2275,"y":-0.05},{"x":0.2325,"y":-0.18},{"x":0.2375,"y":-0.1},{"x":0.2425,"y":-0.24},{"x":0.2475,"y":-0.21},
{"x":0.2525,"y":-0.37},{"x":0.2575,"y":-0.26},{"x":0.2625,"y":-0.33},{"x":0.2675,"y":-0.21},{"x":0.2725,"y":-0.29},{"x":0.2775,"y":-0.06},{"x":0.2825,"y":-0.13},{"x":0.2875,"y":0.01},{"x":0.2925,"y":-0.02},{"x":0.2975,"y":0.18},
{"x":0.3025,"y":0.1},{"x":0.3075,"y":0.31},{"x":0.3125,"y":0.27},{"x":0.3175,"y":0.41},{"x":0.3225,"y":0.32},{"x":0.3275,"y":0.42},{"x":0.3325,"y":0.31},{"x":0.3375,"y":0.49},{"x":0.3425,"y":0.41},{"x":0.3475,"y":0.45},
{"x":0.3525,"y":0.33},{"x":0.3575,"y":0.46},{"x":0.3625,"y":0.3},{"x":0.3675,"y":0.31},{"x":0.3725,"y":0.17},{"x":0.3775,"y":0.25},{"x":0.3825,"y":0.11},{"x":0.3875,"y":0.2},{"x":0.3925,"y":-0.03},{"x":0.3975,"y":0.03},
{"x":0.4025,"y":-0.12},{"x":0.4075,"y":-0.03},{"x":0.4125,"y":-0.18},{"x":0.4175,"y":-0.16},{"x":0.4225,"y":-0.34},{"x":0.4275,"y":-0.26},{"x":0.4325,"y":-0.38},{"x":0.4375,"y":-0.28},{"x":0.4425,"y":-0.41},{"x":0.4475,"y":-0.37},
{"x":0.4525,"y":-0.53},{"x":0.4575,"y":-0.43},{"x":0.4625,"y":-0.52},{"x":0.4675,"y":-0.43},{"x":0.4725,"y":-0.56},{"x":0.4775,"y":-0.4},{"x":0.4825,"y":-0.61},{"x":0.4875,"y":-0.44},{"x":0.4925,"y":-0.51},{"x":0.4975,"y":-0.36},
{"x":0.5025,"y":-0.48},{"x":0.5075,"y":-0.3},{"x":0.5125,"y":-0.36},{"x":0.5175,"y":-0.23},{"x":0.5225,"y":-0.33},{"x":0.5275,"y":-0.22},{"x":0.5325,"y":-0.32},{"x":0.5375,"y":-0.11},{"x":0.5425,"y":-0.15},{"x":0.5475,"y":-0.06},
{"x":0.5525,"y":-0.12},{"x":0.5575,"y":0.07},{"x":0.5625,"y":-0.02},{"x":0.5675,"y":0.07},{"x":0.5725,"y":-0.01},{"x":0.5775,"y":0.16},{"x":0.5825,"y":0.1},{"x":0.5875,"y":0.27},{"x":0.5925,"y":0.12},{"x":0.5975,"y":0.24},
{"x":0.6025,"y":0.17},{"x":0.6075,"y":0.33},{"x":0.6125,"y":0.25},{"x":0.6175,"y":0.34},{"x":0.6225,"y":0.22},{"x":0.6275,"y":0.35},{"x":0.6325,"y":0.29},{"x":0.6375,"y":0.44},{"x":0.6425,"y":0.35},{"x":0.6475,"y":0.43},
{"x":0.6525,"y":0.3},{"x":0.6575,"y":0.43},{"x":0.6625,"y":0.37},{"x":0.6675,"y":0.47},{"x":0.6725,"y":0.35},{"x":0.6775,"y":0.51},{"x":0.6825,"y":0.38},{"x":0.6875,"y":0.44},{"x":0.6925,"y":0.35},{"x":0.6975,"y":0.47},
{"x":0.7025,"y":0.33},{"x":0.7075,"y":0.47},{"x":0.7125,"y":0.39},{"x":0.7175,"y":0.48},{"x":0.7225,"y":0.34},{"x":0.7275,"y":0.41},{"x":0.7325,"y":0.27},{"x":0.7375,"y":0.43},{"x":0.7425,"y":0.34},{"x":0.7475,"y":0.38},
{"x":0.7525,"y":0.26},{"x":0.7575,"y":0.4},{"x":0.7625,"y":0.27},{"x":0.7675,"y":0.3},{"x":0.7725,"y":0.19},{"x":0.7775,"y":0.3},{"x":0.7825,"y":0.2},{"x":0.7875,"y":0.32},{"x":0.7925,"y":0.14},{"x":0.7975,"y":0.22},
{"x":0.8025,"y":0.12},{"x":0.8075,"y":0.24},{"x":0.8125,"y":0.13},{"x":0.8175,"y":0.19},{"x":0.8225,"y":0.03},{"x":0.8275,"y":0.14},{"x":0.8325,"y":0.05},{"x":0.8375,"y":0.18},{"x":0.8425,"y":0.07},{"x":0.8475,"y":0.13},
{"x":0.8525,"y":-0.03},{"x":0.8575,"y":0.09},{"x":0.8625,"y":0.01},{"x":0.8675,"y":0.11},{"x":0.8725,"y":-0.03},{"x":0.8775,"y":0.13},{"x":0.8825,"y":-0.03},{"x":0.8875,"y":0.03},{"x":0.8925,"y":-0.06},{"x":0.8975,"y":0.06},
{"x":0.9025,"y":-0.09},{"x":0.9075,"y":0.06},{"x":0.9125,"y":-0.02},{"x":0.9175,"y":0.08},{"x":0.9225,"y":-0.05},{"x":0.9275,"y":0.03},{"x":0.9325,"y":-0.1},{"x":0.9375,"y":0.07},{"x":0.9425,"y":-0.01},{"x":0.9475,"y":0.04},
{"x":0.9525,"y":-0.06},{"x":0.9575,"y":0.09},{"x":0.9625,"y":-0.03},{"x":0.9675,"y":0.02},{"x":0.9725,"y":-0.08},{"x":0.9775,"y":0.05},{"x":0.9825,"y":-0.04},{"x":0.9875,"y":0.1},{"x":0.9925,"y":-0.07},{"x":0.9975,"y":0.03}]
},
"concat": [
 {"width": 328, "height": 197, "title": "(a) Noisy-blurred LIDAR", "data": {"name": "a"},
  "layer": [
   {"mark": {"type": "line", "clip": true}, "encoding": {
     "x": {"field": "x", "type": "quantitative", "title": null, "scale": {"domain": [0, 1], "nice": false, "zero": false}, "axis": {"orient": "bottom", "values": [0, 0.2, 0.4, 0.6, 0.8, 1]}},
     "y": {"field": "y", "type": "quantitative", "title": null, "scale": {"domain": [-0.5, 2.5], "nice": false, "zero": false}, "axis": {"orient": "left", "values": [-0.5, 0, 0.5, 1, 1.5, 2, 2.5]}}}},
   {"mark": {"type": "line", "opacity": 0}, "encoding": {
     "x": {"field": "x", "type": "quantitative", "title": null, "axis": {"orient": "top", "labels": false, "values": [0, 0.2, 0.4, 0.6, 0.8, 1]}},
     "y": {"field": "y", "type": "quantitative", "title": null, "axis": {"orient": "right", "labels": false, "values": [-0.5, 0, 0.5, 1, 1.5, 2, 2.5]}}}}
  ],
  "resolve": {"axis": {"x": "independent", "y": "independent"}}},
 {"width": 328, "height": 197, "title": "(b) Noisy-blurred Bumps", "data": {"name": "b"},
  "layer": [
   {"mark": {"type": "line", "clip": true}, "encoding": {
     "x": {"field": "x", "type": "quantitative", "title": null, "scale": {"domain": [0, 1], "nice": false, "zero": false}, "axis": {"orient": "bottom", "values": [0, 0.2, 0.4, 0.6, 0.8, 1]}},
     "y": {"field": "y", "type": "quantitative", "title": null, "scale": {"domain": [-0.5, 1.5], "nice": false, "zero": false}, "axis": {"orient": "left", "values": [-0.5, 0, 0.5, 1, 1.5]}}}},
   {"mark": {"type": "line", "opacity": 0}, "encoding": {
     "x": {"field": "x", "type": "quantitative", "title": null, "axis": {"orient": "top", "labels": false, "values": [0, 0.2, 0.4, 0.6, 0.8, 1]}},
     "y": {"field": "y", "type": "quantitative", "title": null, "axis": {"orient": "right", "labels": false, "values": [-0.5, 0, 0.5, 1, 1.5]}}}}
  ],
  "resolve": {"axis": {"x": "independent", "y": "independent"}}},
 {"width": 328, "height": 197, "title": "(c) Noisy-blurred Blocks", "data": {"name": "c"},
  "layer": [
   {"mark": {"type": "line", "clip": true}, "encoding": {
     "x": {"field": "x", "type": "quantitative", "title": null, "scale": {"domain": [0, 1], "nice": false, "zero": false}, "axis": {"orient": "bottom", "values": [0, 0.2, 0.4, 0.6, 0.8, 1]}},
     "y": {"field": "y", "type": "quantitative", "title": null, "scale": {"domain": [-0.5, 1.5], "nice": false, "zero": false}, "axis": {"orient": "left", "values": [-0.5, 0, 0.5, 1, 1.5]}}}},
   {"mark": {"type": "line", "opacity": 0}, "encoding": {
     "x": {"field": "x", "type": "quantitative", "title": null, "axis": {"orient": "top", "labels": false, "values": [0, 0.2, 0.4, 0.6, 0.8, 1]}},
     "y": {"field": "y", "type": "quantitative", "title": null, "axis": {"orient": "right", "labels": false, "values": [-0.5, 0, 0.5, 1, 1.5]}}}}
  ],
  "resolve": {"axis": {"x": "independent", "y": "independent"}}},
 {"width": 328, "height": 197, "title": "(d) Noisy-blurred Doppler", "data": {"name": "d"},
  "layer": [
   {"mark": {"type": "line", "clip": true}, "encoding": {
     "x": {"field": "x", "type": "quantitative", "title": null, "scale": {"domain": [0, 1], "nice": false, "zero": false}, "axis": {"orient": "bottom", "values": [0, 0.2, 0.4, 0.6, 0.8, 1]}},
     "y": {"field": "y", "type": "quantitative", "title": null, "scale": {"domain": [-0.8, 0.6], "nice": false, "zero": false}, "axis": {"orient": "left", "values": [-0.8, -0.6, -0.4, -0.2, 0, 0.2, 0.4, 0.6]}}}},
   {"mark": {"type": "line", "opacity": 0}, "encoding": {
     "x": {"field": "x", "type": "quantitative", "title": null, "axis": {"orient": "top", "labels": false, "values": [0, 0.2, 0.4, 0.6, 0.8, 1]}},
     "y": {"field": "y", "type": "quantitative", "title": null, "axis": {"orient": "right", "labels": false, "values": [-0.8, -0.6, -0.4, -0.2, 0, 0.2, 0.4, 0.6]}}}}
  ],
  "resolve": {"axis": {"x": "independent", "y": "independent"}}}
]
}
